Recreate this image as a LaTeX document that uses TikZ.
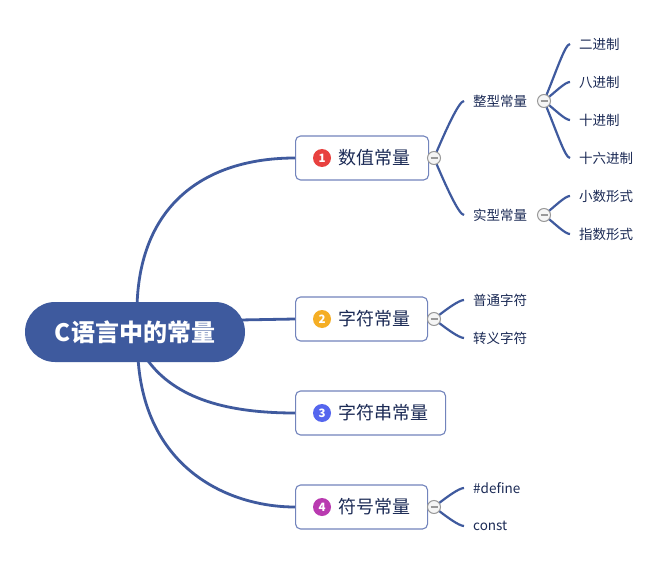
\documentclass[tikz,border=0pt]{standalone}
\usepackage{fontspec}
\newfontfamily\cjk{Noto Sans CJK SC}
\usetikzlibrary{calc}
\definecolor{linkblue}{HTML}{3F5A9E}
\definecolor{rootfill}{HTML}{3E5A9E}
\definecolor{boxline}{HTML}{7284BC}
\definecolor{txt}{HTML}{1B2A55}
\definecolor{bred}{HTML}{E8413F}
\definecolor{borange}{HTML}{F5AE24}
\definecolor{bblue}{HTML}{5566EE}
\definecolor{bpurple}{HTML}{B93AB0}
\tikzset{
  rootnode/.style={rounded corners=30pt, fill=rootfill, minimum width=220pt, minimum height=60pt, text=white, font=\cjk\bfseries\fontsize{24}{27}\selectfont},
  topicbox/.style={draw=boxline, line width=1.1pt, fill=white, rounded corners=5pt, minimum height=44pt, anchor=west},
  badge/.style={circle, inner sep=0pt, minimum size=18pt, text=white, font=\cjk\bfseries\fontsize{11.5}{12}\selectfont},
  topictext/.style={anchor=west, inner sep=0pt, text=txt, font=\cjk\fontsize{18}{20}\selectfont},
  sublabel/.style={anchor=west, inner sep=0pt, text=txt, font=\cjk\fontsize{13.5}{16}\selectfont},
  collapse/.style={circle, draw=gray!80, line width=1pt, fill=gray!8, minimum size=13pt, inner sep=0pt},
  rootlink/.style={draw=linkblue, line width=2.8pt},
  sublink/.style={draw=linkblue, line width=2.2pt},
}
\newcommand{\minusmark}[1]{\draw[gray!80, line width=1.2pt] ($(#1)+(-3.5pt,0)$) -- ($(#1)+(3.5pt,0)$);}
\begin{document}
\begin{tikzpicture}[x=1pt,y=-1pt]
\useasboundingbox (0,0) rectangle (669,564);
\fill[white] (0,0) rectangle (669,564);

\coordinate (rtop) at (137,306);
\coordinate (rright) at (240,320);
\coordinate (rbot1) at (138,358);
\coordinate (rbot2) at (146,358);

\node[topicbox, minimum width=133pt] (n1) at (295,158) {};
\node[topicbox, minimum width=132pt] (n2) at (295,319) {};
\node[topicbox, minimum width=150pt] (n3) at (295,413) {};
\node[topicbox, minimum width=132pt] (n4) at (295,507) {};

\draw[rootlink] (rtop) .. controls (140,200) and (210,158) .. (n1.west);
\draw[rootlink] (rright) -- (n2.west);
\draw[rootlink] (rbot2) .. controls (175,400) and (230,413) .. (n3.west);
\draw[rootlink] (rbot1) .. controls (145,470) and (230,507) .. (n4.west);

\node[rootnode] (root) at (135,332) {C语言中的常量};

\node[badge, fill=bred] (b1) at (322,158) {1};
\node[topictext] (t1) at (338,158) {数值常量};
\node[badge, fill=borange] (b2) at (322,319) {2};
\node[topictext] (t2) at (338,319) {字符常量};
\node[badge, fill=bblue] (b3) at (322,413) {3};
\node[topictext] (t3) at (338,413) {字符串常量};
\node[badge, fill=bpurple] (b4) at (322,507) {4};
\node[topictext] (t4) at (338,507) {符号常量};

\node[sublabel] (a1) at (473,101) {整型常量};
\node[sublabel] (a2) at (473,215) {实型常量};
\node[sublabel] (a3) at (473,300) {普通字符};
\node[sublabel] (a4) at (473,338) {转义字符};
\node[sublabel] (a5) at (473,488) {\#define};
\node[sublabel] (a6) at (473,526) {const};

\node[sublabel] (d1) at (579,44) {二进制};
\node[sublabel] (d2) at (579,82) {八进制};
\node[sublabel] (d3) at (579,120) {十进制};
\node[sublabel] (d4) at (579,158) {十六进制};
\node[sublabel] (d5) at (579,196) {小数形式};
\node[sublabel] (d6) at (579,234) {指数形式};

\coordinate (k1) at (434,158);
\coordinate (k2) at (434,319);
\coordinate (k4) at (434,507);
\coordinate (k5) at (544,101);
\coordinate (k6) at (544,215);

\foreach \k/\l in {k1/a1,k1/a2,k2/a3,k2/a4,k4/a5,k4/a6,k5/d1,k5/d2,k5/d3,k5/d4,k6/d5,k6/d6}{
  \draw[sublink] (\k) .. controls ($(\k)!0.5!(\l.west -| \k)+(12,0)$) and ($(\l.west)+(-14,0)$) .. ($(\l.west)+(-9,0)$);
}

\node[collapse] (c1) at (k1) {};
\node[collapse] (c2) at (k2) {};
\node[collapse] (c4) at (k4) {};
\node[collapse] (c5) at (k5) {};
\node[collapse] (c6) at (k6) {};
\foreach \c in {c1,c2,c4,c5,c6}{\minusmark{\c}}
\end{tikzpicture}
\end{document}
